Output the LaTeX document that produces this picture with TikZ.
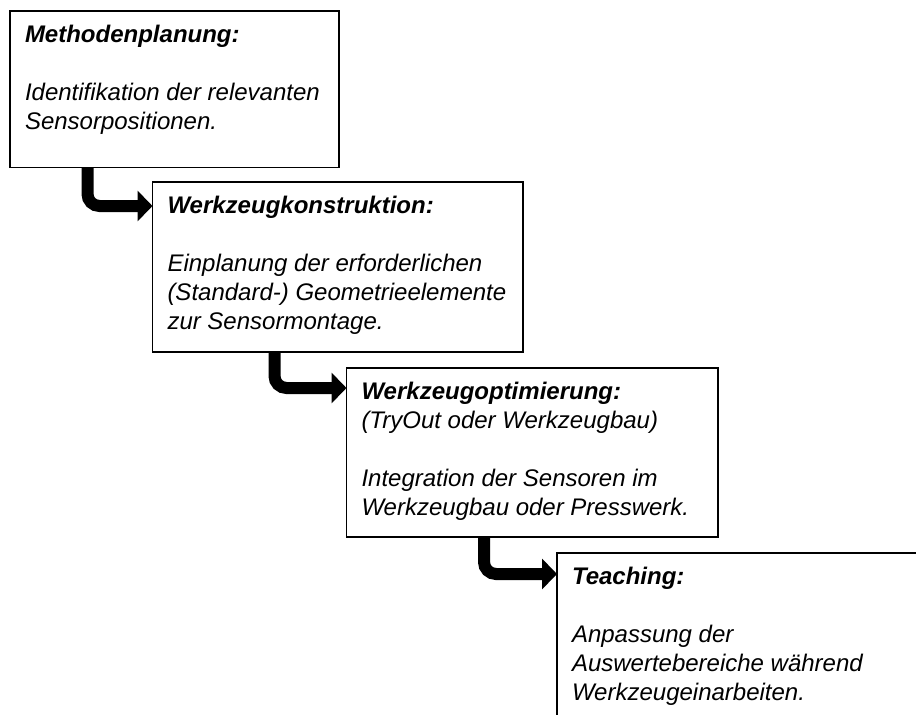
\documentclass[tikz,border=0pt]{standalone}
\usepackage{fontspec}
\setmainfont{Liberation Sans}
\usetikzlibrary{arrows.meta}
\newcommand\firststrut{\rule{0pt}{20pt}}
\begin{document}
\begin{tikzpicture}[x=1pt,y=-1pt,
  stage/.style={draw=black, line width=1.6pt, rectangle, inner sep=0pt, outer sep=0pt, anchor=north west},
  stagetext/.style={anchor=north west, inner sep=0pt, outer sep=0pt, align=left, font=\fontsize{24}{29}\selectfont\itshape},
  flow/.style={line width=12pt, rounded corners=12pt, -{Triangle[length=15pt,width=30pt]}}]
\useasboundingbox (0,0) rectangle (916,715);
\clip (0,0) rectangle (916,715);
\fill[white] (0,0) rectangle (916,715);

\node[stage, minimum width=329pt, minimum height=156.5pt] (b1) at (10,11) {};
\node[stage, minimum width=370.5pt, minimum height=170pt] (b2) at (152.5,182) {};
\node[stage, minimum width=371.5pt, minimum height=169pt] (b3) at (346.5,368) {};
\node[stage, minimum width=420pt, minimum height=220pt] (b4) at (557,553) {};

\node[stagetext] (t1) at ([xshift=15pt,yshift=-11pt]b1.north west)
  {\firststrut\textbf{Methodenplanung:}\\[29pt]Identifikation der relevanten\\Sensorpositionen.};
\node[stagetext] (t2) at ([xshift=15pt,yshift=-11pt]b2.north west)
  {\firststrut\textbf{Werkzeugkonstruktion:}\\[29pt]Einplanung der erforderlichen\\(Standard-) Geometrieelemente\\zur Sensormontage.};
\node[stagetext] (t3) at ([xshift=15pt,yshift=-11pt]b3.north west)
  {\firststrut\textbf{Werkzeugoptimierung:}\\(TryOut oder Werkzeugbau)\\[29pt]Integration der Sensoren im\\Werkzeugbau oder Presswerk.};
\node[stagetext] (t4) at ([xshift=15pt,yshift=-11pt]b4.north west)
  {\firststrut\textbf{Teaching:}\\[29pt]Anpassung der\\Auswertebereiche während\\Werkzeugeinarbeiten.};

\draw[flow] ([xshift=77.5pt]b1.south west) |- ([yshift=-24pt]b2.north west);
\draw[flow] ([xshift=122pt]b2.south west) |- ([yshift=-20pt]b3.north west);
\draw[flow] ([xshift=137.5pt]b3.south west) |- ([yshift=-21pt]b4.north west);
\end{tikzpicture}
\end{document}
